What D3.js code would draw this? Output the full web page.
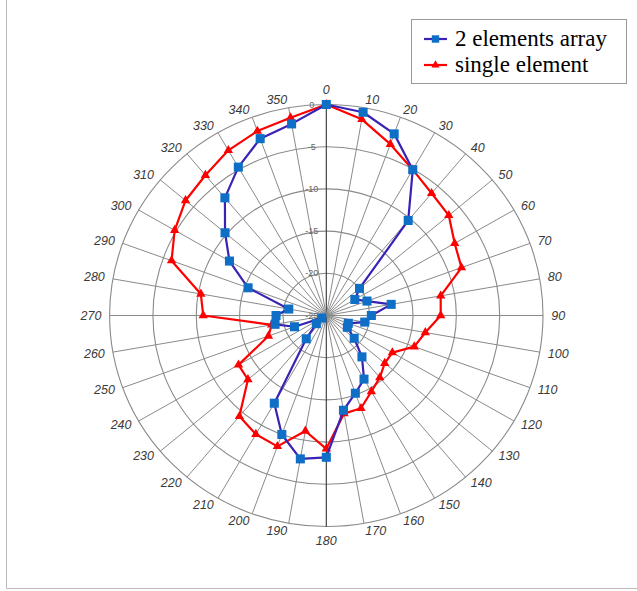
<!DOCTYPE html>
<html>
<head>
<meta charset="utf-8">
<script src="https://cdn.jsdelivr.net/npm/d3@7"></script>
<style>
  html, body { margin: 0; padding: 0; background: #fff; }
  svg { display: block; }
</style>
</head>
<body>
<svg id="chart" width="637" height="591"></svg>
<script>
// Measured radiation pattern, dB relative to the maximum, one value every 10 degrees
const angles = d3.range(0, 360, 10);
const arrayGain = [0, -0.55, -2.1, -5.05, -10.3, -20.0, -21.2, -20.0, -17.4, -19.8,
  -20.5, -22.3, -22.2, -20.8, -18.6, -16.3, -15.2, -13.6, -8.2, -7.75,
  -10.0, -13.0, -21.4, -23.5, -24.4, -21.1, -19.0, -19.2, -20.6, -15.4,
  -12.1, -9.75, -6.8, -4.7, -2.7, -1.95];
const singleGain = [0, -1.4, -3.4, -5.05, -6.1, -6.55, -7.9, -8.4, -11.6, -11.8,
  -13.4, -14.2, -16.2, -16.2, -15.4, -14.6, -13.3, -13.2, -9.2, -11.1,
  -8.5, -8.75, -9.4, -13.2, -13.3, -17.9, -18.6, -10.8, -10.3, -6.0,
  -4.8, -3.8, -3.3, -2.4, -1.75, -1.2];
const radialTicks = [0, -5, -10, -15, -20, -25];
const seriesNames = ["2 elements array", "single element"];

const svg = d3.select("#chart");
const cx = 326.3, cy = 315.5, R = 211, kx = 1.027;

const r = d3.scaleLinear().domain([-25, 0]).range([0, R]);
const theta = d3.scaleLinear().domain([0, 360]).range([0, 2 * Math.PI]);

function pos(a, v) {
  const t = theta(a), rr = r(v);
  return [cx + rr * Math.sin(t) * kx, cy - rr * Math.cos(t)];
}

// frame
svg.append("line").attr("x1", 6.5).attr("y1", 0).attr("x2", 6.5).attr("y2", 588.5)
  .attr("stroke", "#bbb").attr("stroke-width", 1);
svg.append("line").attr("x1", 6.5).attr("y1", 588.5).attr("x2", 637).attr("y2", 588.5)
  .attr("stroke", "#bbb").attr("stroke-width", 1);

const grid = svg.append("g");

// rings
grid.selectAll("ellipse.ring").data(radialTicks.filter(d => d > -25)).join("ellipse")
  .attr("class", "ring")
  .attr("cx", cx).attr("cy", cy)
  .attr("rx", d => r(d) * kx).attr("ry", d => r(d))
  .attr("fill", "none").attr("stroke", "#8a8a8a").attr("stroke-width", 1.1);

// spokes
grid.selectAll("line.spoke").data(angles).join("line")
  .attr("class", "spoke")
  .attr("x1", cx).attr("y1", cy)
  .attr("x2", d => pos(d, 0)[0]).attr("y2", d => pos(d, 0)[1])
  .attr("stroke", d => (d === 0 || d === 180) ? "#333" : "#8a8a8a")
  .attr("stroke-width", d => (d === 0 || d === 180) ? 1.1 : 1);

// radial tick labels
grid.selectAll("text.rtick").data(radialTicks).join("text")
  .attr("class", "rtick")
  .attr("x", cx - 14.5).attr("y", d => cy - r(d))
  .attr("text-anchor", "middle").attr("dominant-baseline", "central")
  .attr("font-family", "Liberation Sans, Arial, sans-serif")
  .attr("font-size", 9).attr("fill", "#666")
  .text(d => d);

// angle labels
const gap = 8;
grid.selectAll("text.alabel").data(angles).join("text")
  .attr("class", "alabel")
  .each(function (a) {
    const t = theta(a);
    const x = cx + (R + gap) * Math.sin(t) * kx;
    let y = cy - (R + gap) * Math.cos(t);
    let anchor = "middle";
    if (a > 0 && a < 180) anchor = "start";
    else if (a > 180) anchor = "end";
    if (a === 0) y -= 6.5;
    if (a === 180) y += 6.5;
    d3.select(this).attr("x", x).attr("y", y).attr("text-anchor", anchor);
  })
  .attr("dominant-baseline", "central")
  .attr("font-family", "Liberation Sans, Arial, sans-serif")
  .attr("font-style", "italic")
  .attr("font-size", 12.5).attr("fill", "#3a3a3a")
  .text(d => d);

const line = d3.line().curve(d3.curveLinearClosed);

const series = [
  { name: seriesNames[1], values: singleGain, stroke: "#ff0000", fill: "#ff0000", shape: d3.symbolTriangle, size: 38 },
  { name: seriesNames[0], values: arrayGain, stroke: "#3a22b4", fill: "#0f6fc6", shape: d3.symbolSquare, size: 82 }
];

series.forEach(s => {
  const pts = angles.map((a, i) => pos(a, s.values[i]));
  svg.append("path").attr("d", line(pts))
    .attr("fill", "none").attr("stroke", s.stroke).attr("stroke-width", 2.2)
    .attr("stroke-linejoin", "round");
  svg.append("g").selectAll("path").data(pts).join("path")
    .attr("transform", d => `translate(${d[0]},${d[1]})`)
    .attr("d", d3.symbol().type(s.shape).size(s.size))
    .attr("fill", s.fill);
});

// legend
const lg = svg.append("g");
lg.append("rect").attr("x", 411.5).attr("y", 19.5).attr("width", 215).attr("height", 64)
  .attr("fill", "#fff").attr("stroke", "#999").attr("stroke-width", 1);
const legendItems = [
  { name: seriesNames[0], stroke: "#3a22b4", fill: "#0f6fc6", shape: d3.symbolSquare, size: 55 },
  { name: seriesNames[1], stroke: "#ff0000", fill: "#ff0000", shape: d3.symbolTriangle, size: 30 }
];
legendItems.forEach((it, i) => {
  const y = 39 + i * 26;
  lg.append("line").attr("x1", 424).attr("x2", 447).attr("y1", y).attr("y2", y)
    .attr("stroke", it.stroke).attr("stroke-width", 2.2);
  lg.append("path").attr("transform", `translate(435.5,${y})`)
    .attr("d", d3.symbol().type(it.shape).size(it.size)).attr("fill", it.fill);
  lg.append("text").attr("x", 455).attr("y", y + 7)
    .attr("font-family", "Liberation Serif, Times New Roman, serif")
    .attr("font-size", 23).attr("fill", "#000")
    .text(it.name);
});
</script>
</body>
</html>
